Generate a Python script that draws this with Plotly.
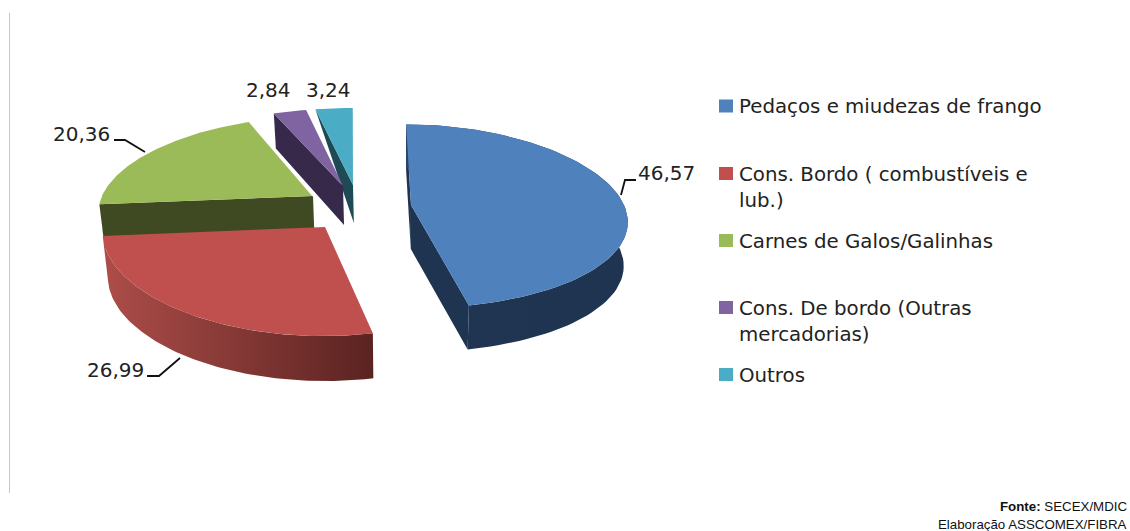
import numpy as np
import plotly.graph_objects as go

# Export shares by product
categories = [
    "Pedaços e miudezas de frango",
    "Cons. Bordo ( combustíveis e<br>lub.)",
    "Carnes de Galos/Galinhas",
    "Cons. De bordo (Outras<br>mercadorias)",
    "Outros",
]
values = [46.57, 26.99, 20.36, 2.84, 3.24]

top_colors = ["#4f81bd", "#c0504d", "#9bbb59", "#8064a2", "#4bacc6"]
side_colors = ["#1f3450", "#a84c48", "#3f4a22", "#37294a", "#1d4a55"]

# Exploded placement of each slice on the canvas
apex_x = [411, 325, 313, 343, 353]
apex_y = [205, 227, 196, 186, 185]
radius_x = [213, 222, 211, 222, 222]
scale_y = [1.02, 1.08, 1.0, 0.98, 0.975]
depth = [44, 45, 44, 39, 38]
rim_depth_share = [1.0, 1.0, 1.0, 0.9, 0.0]
spread = [0.17, 0.05, 0.17, 0.17, 0.17]

VANISH_X = 350
DEPTH_VANISH_X = 400
TEXT_FONT = "DejaVu Sans"


def project(i, angle):
    """Map a clockwise angle on the tilted disc to canvas coordinates."""
    u, v = np.sin(angle), -np.cos(angle)
    x = apex_x[i] + radius_x[i] * u * (1 + spread[i] * v) + (apex_x[i] - VANISH_X) * 0.08 * v
    y = apex_y[i] + scale_y[i] * (90 * v + 11 * v * v)
    return x, y


def lower(i, x, y, share=1.0):
    """Drop a top-face point to the bottom face of the slab."""
    x = np.asarray(x, dtype=float)
    y = np.asarray(y, dtype=float)
    return x + (DEPTH_VANISH_X - x) * 0.018 * share, y + depth[i] * share


def polygon(x, y, color, **extra):
    return go.Scatter(
        x=list(x), y=list(y), mode="lines", fill="toself", fillcolor=color,
        line=dict(width=0), hoverinfo="skip", showlegend=False, **extra
    )


fractions = np.array(values) / sum(values)
ends = np.cumsum(fractions) * 2 * np.pi
starts = np.concatenate([[0], ends[:-1]])

traces = {}
for i in range(len(values)):
    arc = np.linspace(starts[i], ends[i], 90)
    rx, ry = project(i, arc)
    top_x = np.concatenate([[apex_x[i]], rx])
    top_y = np.concatenate([[apex_y[i]], ry])
    traces[i] = dict(top=polygon(top_x, top_y, top_colors[i]), rx=rx, ry=ry)

fig = go.Figure()


def add_cut_face(i, rim_x, rim_y):
    # Flat face running from the slice apex out to the rim
    ax, ay = lower(i, apex_x[i], apex_y[i])
    bx, by = lower(i, rim_x, rim_y, rim_depth_share[i])
    fig.add_trace(polygon([rim_x, apex_x[i], ax, bx], [rim_y, apex_y[i], ay, by], side_colors[i]))


# Back-to-front: Outros, Cons. De bordo, Carnes, Cons. Bordo, Pedaços
for i in (4, 3, 2):
    add_cut_face(i, traces[i]["rx"][0], traces[i]["ry"][0])
    fig.add_trace(traces[i]["top"])

# Light seam along the right cut of the green slice
fig.add_trace(go.Scatter(
    x=[apex_x[2], traces[2]["rx"][-1]], y=[apex_y[2], traces[2]["ry"][-1]],
    mode="lines", line=dict(color="white", width=1.2), hoverinfo="skip", showlegend=False,
))

# Red slice: curved outer wall with a horizontal shade
lx, ly = lower(1, traces[1]["rx"], traces[1]["ry"])
fig.add_trace(go.Scatter(
    x=list(traces[1]["rx"]) + list(lx[::-1]), y=list(traces[1]["ry"]) + list(ly[::-1]),
    mode="lines", fill="toself", line=dict(width=0), hoverinfo="skip", showlegend=False,
    fillgradient=dict(type="horizontal", colorscale=[[0, "#ad4d49"], [0.5, "#843835"], [1, "#5a2321"]]),
))
fig.add_trace(traces[1]["top"])

# Blue slice: both cut faces, then the outer wall
add_cut_face(0, traces[0]["rx"][0], traces[0]["ry"][0])
add_cut_face(0, traces[0]["rx"][-1], traces[0]["ry"][-1])
lx, ly = lower(0, traces[0]["rx"], traces[0]["ry"])
fig.add_trace(go.Scatter(
    x=list(traces[0]["rx"]) + list(lx[::-1]), y=list(traces[0]["ry"]) + list(ly[::-1]),
    mode="lines", fill="toself", line=dict(width=0), hoverinfo="skip", showlegend=False,
    fillgradient=dict(type="horizontal", colorscale=[[0, "#2b4468"], [0.12, "#203551"], [1, "#1f3450"]]),
))
fig.add_trace(traces[0]["top"])

# Value labels with their elbow leaders
label_x = [636, 85, 51, 244, 304]
label_y = [173, 370, 134, 90, 90]
leader_x = [[621, 625, 636], [180, 159, 147], [145, 125, 114]]
leader_y = [[195, 180, 180], [358, 376, 376], [152, 140, 140]]
for lx, ly in zip(leader_x, leader_y):
    fig.add_trace(go.Scatter(
        x=lx, y=ly, mode="lines", line=dict(color="#111111", width=1.8),
        hoverinfo="skip", showlegend=False,
    ))

annotations = []
for v, x, y in zip(values, label_x, label_y):
    annotations.append(dict(
        x=x, y=y, xref="x", yref="y", xanchor="left", yanchor="middle", showarrow=False,
        text=f"{v:.2f}".replace(".", ","),
        font=dict(family=TEXT_FONT, size=20, color="#222222"),
    ))

# Legend built by hand because its row spacing is uneven
legend_y = [106, 173.5, 240.5, 307.5, 374.5]
legend_text_y = [106, 187, 241, 321, 375]
shapes = []
for color, ys, name, ty in zip(top_colors, legend_y, categories, legend_text_y):
    shapes.append(dict(type="rect", xref="x", yref="y", x0=719, x1=733, y0=ys - 6.5, y1=ys + 6.5,
                       fillcolor=color, line=dict(width=0)))
    annotations.append(dict(
        x=737, y=ty, xref="x", yref="y", xanchor="left", yanchor="middle", align="left",
        showarrow=False, text=name,
        font=dict(family=TEXT_FONT, size=19.8, color="#222222"),
    ))

# Left rule of the chart frame
shapes.append(dict(type="line", xref="x", yref="y", x0=9.5, x1=9.5, y0=13, y1=493,
                   line=dict(color="#c8c8c8", width=1)))

# Source note
annotations.append(dict(
    x=1129, y=506, xref="x", yref="y", xanchor="right", yanchor="middle", showarrow=False,
    text="<b>Fonte:</b> SECEX/MDIC",
    font=dict(family="Liberation Sans", size=13.3, color="#111111"),
))
annotations.append(dict(
    x=1129, y=524, xref="x", yref="y", xanchor="right", yanchor="middle", showarrow=False,
    text="Elaboração ASSCOMEX/FIBRA",
    font=dict(family="Liberation Sans", size=13.3, color="#111111"),
))

fig.update_layout(
    width=1130, height=531, autosize=False,
    margin=dict(l=0, r=0, t=0, b=0),
    paper_bgcolor="white", plot_bgcolor="white",
    xaxis=dict(range=[0, 1130], visible=False, fixedrange=True),
    yaxis=dict(range=[531, 0], visible=False, fixedrange=True),
    annotations=annotations, shapes=shapes, showlegend=False,
)
fig.write_html("out.html", config=dict(displayModeBar=False))
